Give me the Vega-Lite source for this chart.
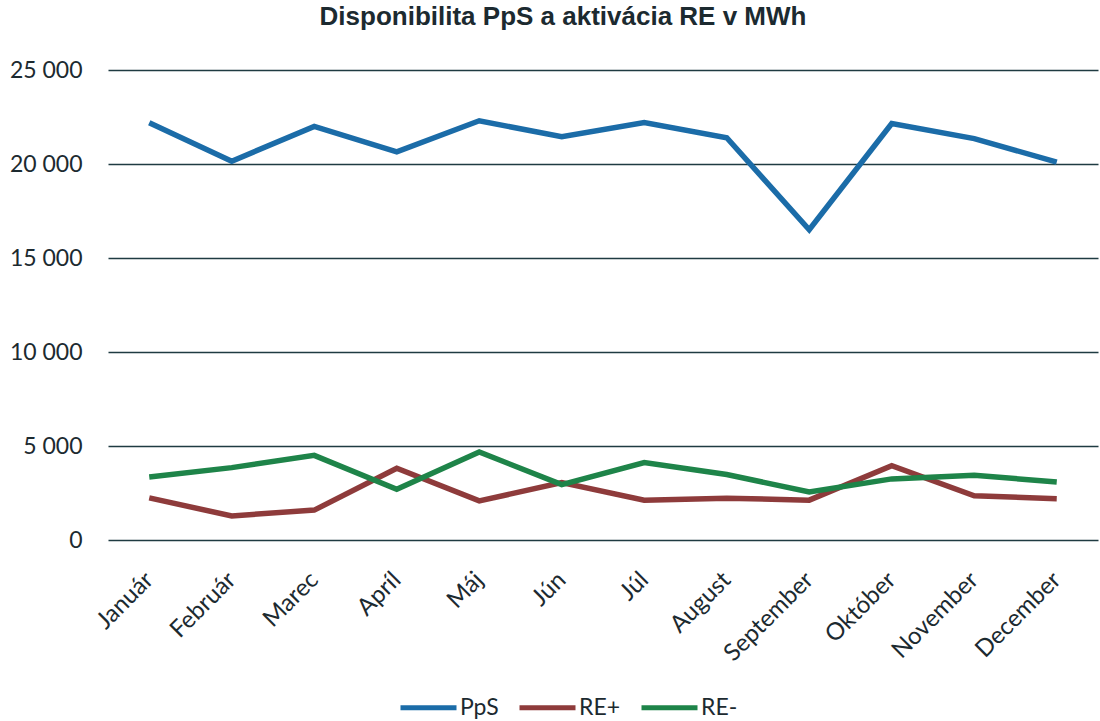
{
  "$schema": "https://vega.github.io/schema/vega-lite/v6.json",
  "autosize": {"type": "none"},
  "width": 990,
  "height": 470,
  "padding": {"left": 108, "top": 70, "right": 2, "bottom": 181},
  "background": "white",
  "title": {
    "text": "Disponibilita PpS a aktivácia RE v MWh",
    "font": "Liberation Sans",
    "fontSize": 26,
    "fontWeight": "bold",
    "color": "#1c2a30",
    "anchor": "middle",
    "dx": -40,
    "offset": 29
  },
  "data": {
    "values": [
      {"month": "Január", "series": "PpS", "value": 22200},
      {"month": "Február", "series": "PpS", "value": 20150},
      {"month": "Marec", "series": "PpS", "value": 22000},
      {"month": "Apríl", "series": "PpS", "value": 20650},
      {"month": "Máj", "series": "PpS", "value": 22300},
      {"month": "Jún", "series": "PpS", "value": 21450},
      {"month": "Júl", "series": "PpS", "value": 22200},
      {"month": "August", "series": "PpS", "value": 21400},
      {"month": "September", "series": "PpS", "value": 16500},
      {"month": "Október", "series": "PpS", "value": 22150},
      {"month": "November", "series": "PpS", "value": 21350},
      {"month": "December", "series": "PpS", "value": 20100},
      {"month": "Január", "series": "RE+", "value": 2240},
      {"month": "Február", "series": "RE+", "value": 1280},
      {"month": "Marec", "series": "RE+", "value": 1590},
      {"month": "Apríl", "series": "RE+", "value": 3820},
      {"month": "Máj", "series": "RE+", "value": 2080},
      {"month": "Jún", "series": "RE+", "value": 3050},
      {"month": "Júl", "series": "RE+", "value": 2120},
      {"month": "August", "series": "RE+", "value": 2220},
      {"month": "September", "series": "RE+", "value": 2120},
      {"month": "Október", "series": "RE+", "value": 3950},
      {"month": "November", "series": "RE+", "value": 2350},
      {"month": "December", "series": "RE+", "value": 2200},
      {"month": "Január", "series": "RE-", "value": 3350},
      {"month": "Február", "series": "RE-", "value": 3850},
      {"month": "Marec", "series": "RE-", "value": 4500},
      {"month": "Apríl", "series": "RE-", "value": 2700},
      {"month": "Máj", "series": "RE-", "value": 4680},
      {"month": "Jún", "series": "RE-", "value": 2950},
      {"month": "Júl", "series": "RE-", "value": 4120},
      {"month": "August", "series": "RE-", "value": 3480},
      {"month": "September", "series": "RE-", "value": 2560},
      {"month": "Október", "series": "RE-", "value": 3250},
      {"month": "November", "series": "RE-", "value": 3450},
      {"month": "December", "series": "RE-", "value": 3080}
    ]
  },
  "mark": {"type": "line", "strokeWidth": 5.5, "strokeJoin": "miter", "strokeCap": "butt"},
  "encoding": {
    "x": {
      "field": "month",
      "type": "nominal",
      "sort": ["Január", "Február", "Marec", "Apríl", "Máj", "Jún", "Júl", "August", "September", "Október", "November", "December"],
      "scale": {"type": "point", "padding": 0.5},
      "axis": {
        "title": null,
        "domain": false,
        "ticks": false,
        "grid": false,
        "labelAngle": -45,
        "labelAlign": "right",
        "labelBaseline": "middle",
        "labelFont": "Lato",
        "labelFontSize": 24,
        "labelColor": "#1c2a30",
        "labelPadding": 36
      }
    },
    "y": {
      "field": "value",
      "type": "quantitative",
      "scale": {"domain": [0, 25000], "nice": false},
      "axis": {
        "title": null,
        "values": [0, 5000, 10000, 15000, 20000, 25000],
        "labelExpr": "replace(format(datum.value, ','), ',', ' ')",
        "domain": false,
        "ticks": false,
        "grid": true,
        "gridColor": "#1f3b42",
        "gridWidth": 1.5,
        "gridOpacity": 1,
        "labelFont": "Lato",
        "labelFontSize": 23,
        "labelColor": "#1c2a30",
        "labelPadding": 26
      }
    },
    "color": {
      "field": "series",
      "type": "nominal",
      "scale": {"domain": ["PpS", "RE+", "RE-"], "range": ["#1b6ca8", "#8e3b3b", "#1e8449"]},
      "legend": {
        "title": null,
        "orient": "none",
        "direction": "horizontal",
        "legendX": 290,
        "legendY": 607,
        "symbolType": "stroke",
        "symbolStrokeWidth": 5,
        "symbolSize": 3136,
        "labelFont": "Lato",
        "labelFontSize": 23,
        "labelColor": "#1c2a30",
        "labelOffset": 1,
        "columnPadding": 10
      }
    }
  },
  "config": {"view": {"stroke": null}}
}
